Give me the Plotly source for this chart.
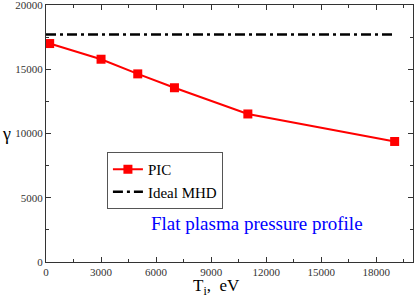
import plotly.graph_objects as go

ti = [200, 3000, 5000, 7000, 11000, 19000]
gamma_pic = [17000, 15780, 14640, 13560, 11520, 9380]
mhd_x = [0, 19000]
mhd_y = [17700, 17700]

fig = go.Figure()
fig.add_trace(go.Scatter(x=ti, y=gamma_pic, mode="lines+markers", name="PIC",
                         line=dict(color="#ff0000", width=2),
                         marker=dict(symbol="square", size=9, color="#ff0000")))
fig.add_trace(go.Scatter(x=mhd_x, y=mhd_y, mode="lines", name="Ideal MHD",
                         line=dict(color="black", width=2.5, dash="10px,4px,3px,4px")))

fig.add_annotation(x=11500, y=3000, text="Flat plasma pressure profile", showarrow=False,
                   font=dict(family="Liberation Serif", size=19, color="#0000ff"))
fig.add_annotation(x=0.465, y=-0.046, xref="paper", yref="paper", yanchor="top",
                   text="T<sub>i</sub>,  eV", showarrow=False,
                   font=dict(family="Liberation Serif", size=17, color="black"))
fig.add_annotation(x=-0.108, y=0.5, xref="paper", yref="paper", xanchor="center",
                   text="γ", showarrow=False,
                   font=dict(family="Liberation Serif", size=18, color="black"))

axis_common = dict(showline=True, linecolor="#333333", linewidth=1, mirror="allticks",
                   ticks="inside", ticklen=5, tickcolor="#333333", showgrid=False, zeroline=False,
                   automargin=False, tickformat="d", ticklabeloverflow="allow",
                   tickfont=dict(family="Liberation Serif", size=11, color="#333333"))

fig.update_xaxes(range=[0, 20000], dtick=3000, tick0=0,
                 minor=dict(dtick=1500, ticks="inside", ticklen=3, tickcolor="#333333"),
                 **axis_common)
fig.update_yaxes(range=[0, 20000], dtick=5000, tick0=0,
                 minor=dict(dtick=2500, ticks="inside", ticklen=3, tickcolor="#333333"),
                 **axis_common)

fig.update_layout(width=415, height=297, margin=dict(l=46, r=2, t=5, b=35),
                  paper_bgcolor="white", plot_bgcolor="white",
                  legend=dict(x=0.166, y=0.428, xanchor="left", yanchor="top",
                              bgcolor="white", bordercolor="#555555", borderwidth=1,
                              font=dict(family="Liberation Serif", size=15, color="black"),
                              itemwidth=30, tracegroupgap=0))
fig.write_html("out.html", config={"displayModeBar": False},
               post_script="document.body.style.margin='0';")
